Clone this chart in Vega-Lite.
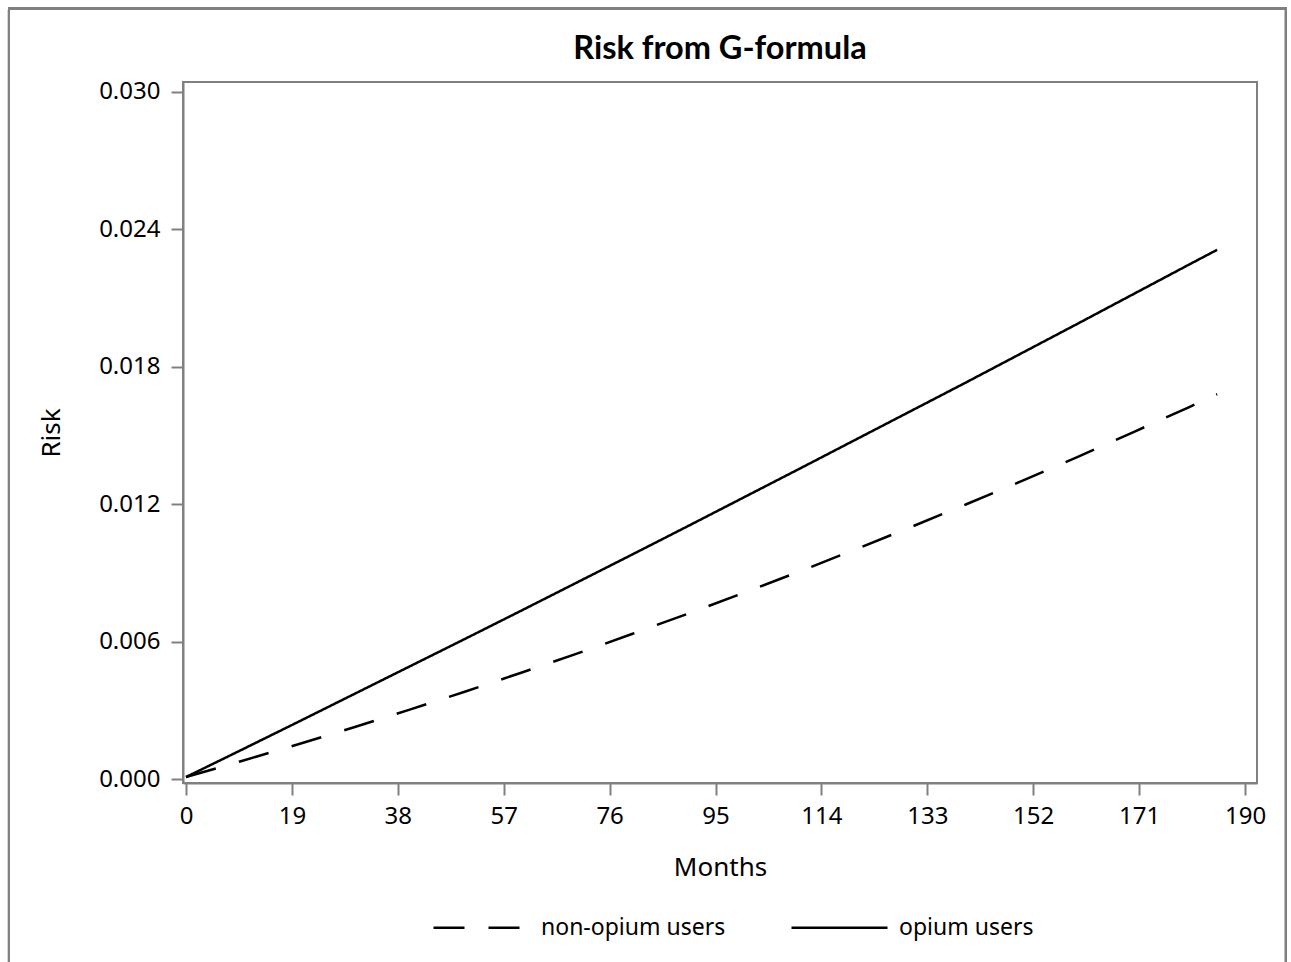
{
  "$schema": "https://vega.github.io/schema/vega-lite/v6.json",
  "autosize": "none",
  "width": 1074,
  "height": 701,
  "padding": {"left": 183, "top": 82, "right": 34, "bottom": 179},
  "background": "white",
  "title": {
    "text": "Risk from G-formula",
    "font": "Lato",
    "fontWeight": "bold",
    "fontSize": 32.5,
    "color": "black",
    "anchor": "middle",
    "offset": 22,
    "dy": 80
  },
  "config": {
    "view": {"stroke": "#808080", "strokeWidth": 2},
    "axis": {
      "domainColor": "#808080",
      "domainWidth": 2,
      "tickColor": "#808080",
      "tickWidth": 2,
      "tickSize": 12,
      "grid": false,
      "labelColor": "black",
      "labelFont": "Noto Sans",
      "labelFontSize": 24,
      "titleColor": "black",
      "titleFont": "Noto Sans",
      "titleFontSize": 26,
      "titleFontWeight": "normal"
    },
    "legend": {
      "labelFont": "Noto Sans",
      "labelFontSize": 23,
      "labelColor": "black",
      "labelLimit": 400
    }
  },
  "data": {
    "values": [
      {"month": 0, "risk": 0.0001, "group": "non-opium users"},
      {"month": 10, "risk": 0.0008, "group": "non-opium users"},
      {"month": 20, "risk": 0.00152, "group": "non-opium users"},
      {"month": 30, "risk": 0.00226, "group": "non-opium users"},
      {"month": 40, "risk": 0.00303, "group": "non-opium users"},
      {"month": 50, "risk": 0.00382, "group": "non-opium users"},
      {"month": 60, "risk": 0.00464, "group": "non-opium users"},
      {"month": 70, "risk": 0.00547, "group": "non-opium users"},
      {"month": 80, "risk": 0.00634, "group": "non-opium users"},
      {"month": 90, "risk": 0.00722, "group": "non-opium users"},
      {"month": 100, "risk": 0.00813, "group": "non-opium users"},
      {"month": 110, "risk": 0.00906, "group": "non-opium users"},
      {"month": 120, "risk": 0.01002, "group": "non-opium users"},
      {"month": 130, "risk": 0.011, "group": "non-opium users"},
      {"month": 140, "risk": 0.012, "group": "non-opium users"},
      {"month": 150, "risk": 0.01302, "group": "non-opium users"},
      {"month": 160, "risk": 0.01407, "group": "non-opium users"},
      {"month": 170, "risk": 0.01515, "group": "non-opium users"},
      {"month": 180, "risk": 0.01624, "group": "non-opium users"},
      {"month": 185, "risk": 0.0168, "group": "non-opium users"},
      {"month": 0, "risk": 0.0001, "group": "opium users"},
      {"month": 10, "risk": 0.00129, "group": "opium users"},
      {"month": 20, "risk": 0.00249, "group": "opium users"},
      {"month": 30, "risk": 0.0037, "group": "opium users"},
      {"month": 40, "risk": 0.00491, "group": "opium users"},
      {"month": 50, "risk": 0.00612, "group": "opium users"},
      {"month": 60, "risk": 0.00734, "group": "opium users"},
      {"month": 70, "risk": 0.00857, "group": "opium users"},
      {"month": 80, "risk": 0.0098, "group": "opium users"},
      {"month": 90, "risk": 0.01104, "group": "opium users"},
      {"month": 100, "risk": 0.01229, "group": "opium users"},
      {"month": 110, "risk": 0.01354, "group": "opium users"},
      {"month": 120, "risk": 0.0148, "group": "opium users"},
      {"month": 130, "risk": 0.01606, "group": "opium users"},
      {"month": 140, "risk": 0.01732, "group": "opium users"},
      {"month": 150, "risk": 0.0186, "group": "opium users"},
      {"month": 160, "risk": 0.01988, "group": "opium users"},
      {"month": 170, "risk": 0.02117, "group": "opium users"},
      {"month": 180, "risk": 0.02246, "group": "opium users"},
      {"month": 185, "risk": 0.0231, "group": "opium users"}
    ]
  },
  "layer": [
    {
      "mark": {"type": "line", "color": "black", "strokeWidth": 2.5, "clip": true},
      "encoding": {
        "x": {
          "field": "month",
          "type": "quantitative",
          "title": "Months",
          "scale": {"domain": [-0.54, 192.15], "nice": false, "zero": false},
          "axis": {
            "values": [0, 19, 38, 57, 76, 95, 114, 133, 152, 171, 190],
            "labelPadding": 9,
            "titlePadding": 26
          }
        },
        "y": {
          "field": "risk",
          "type": "quantitative",
          "title": "Risk",
          "scale": {"domain": [-0.00016, 0.03042], "nice": false, "zero": false},
          "axis": {
            "values": [0, 0.006, 0.012, 0.018, 0.024, 0.03],
            "format": ".3f",
            "labelPadding": 11,
            "titlePadding": 34
          }
        },
        "strokeDash": {
          "field": "group",
          "type": "nominal",
          "scale": {"domain": ["non-opium users", "opium users"], "range": [[31, 24], [1, 0]]},
          "legend": {
            "title": null,
            "orient": "none",
            "direction": "horizontal",
            "legendX": 249,
            "legendY": 796,
            "padding": 0,
            "symbolType": "stroke",
            "symbolSize": 9216,
            "symbolStrokeWidth": 2.5,
            "symbolStrokeColor": "black",
            "labelOffset": 10,
            "columnPadding": 60
          }
        }
      }
    },
    {
      "mark": {"type": "rect", "fill": null, "stroke": "#808080", "strokeWidth": 2, "clip": false},
      "encoding": {
        "x": {"datum": -31.76},
        "x2": {"datum": 197.35},
        "y": {"datum": 0.03363},
        "y2": {"datum": -0.00854}
      }
    }
  ]
}
